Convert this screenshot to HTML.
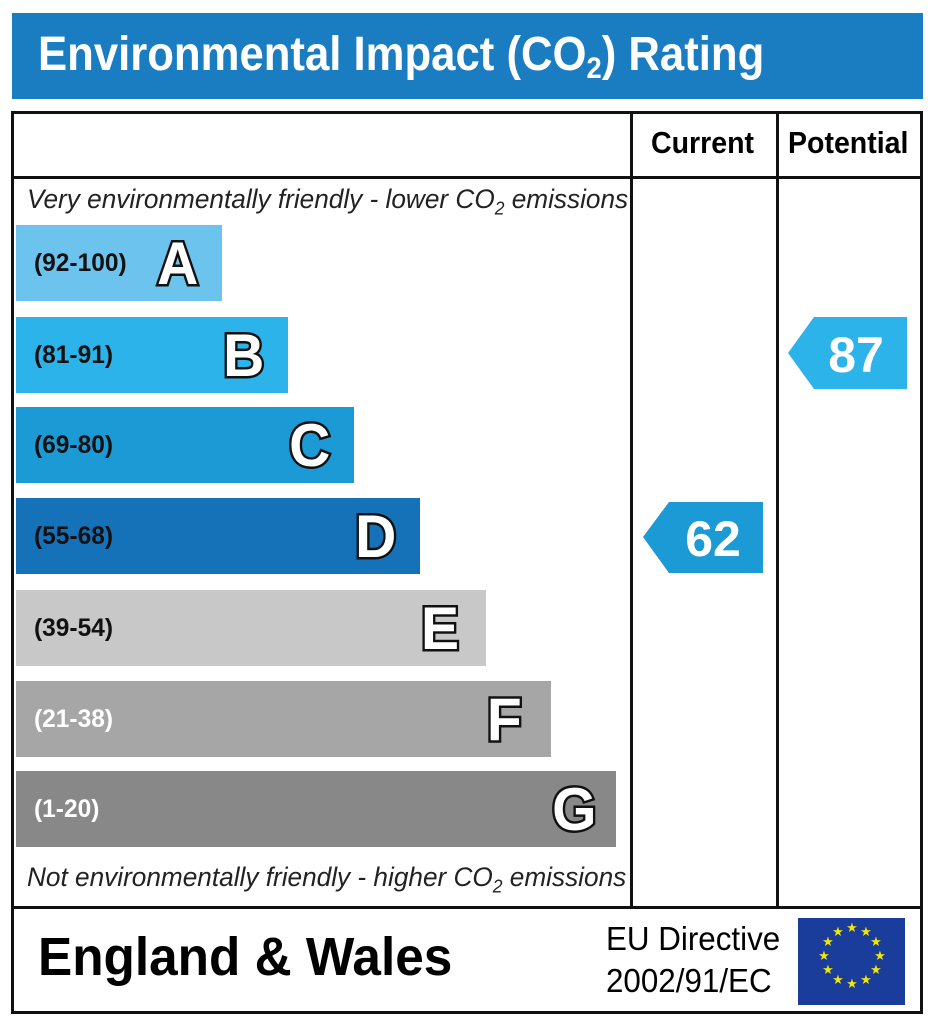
<!DOCTYPE html>
<html><head><style>
body{margin:0;width:933px;height:1024px;background:#fff;position:relative;overflow:hidden;font-family:"Liberation Sans",Arial,sans-serif}
.a{position:absolute}
.title{left:12px;top:13px;width:911px;height:86px;background:#1a7cc1}
.title span{position:absolute;left:26px;top:14px;color:#fff;font-weight:bold;font-size:48px;transform:scaleX(.91);transform-origin:left;white-space:nowrap}
.ln{position:absolute;background:#111}
.bar{position:absolute;left:16px;height:76px}
.rng{position:absolute;left:18px;top:24px;font-weight:bold;font-size:25px;transform:scaleX(.98);transform-origin:left;white-space:nowrap}
.let{position:absolute;top:4px;font-weight:bold;font-size:60px;color:#fff;-webkit-text-stroke:5px #111;paint-order:stroke fill;transform:scaleX(.95)}
.it{position:absolute;font-style:italic;font-size:27px;color:#222;transform:scaleX(.97);transform-origin:left;white-space:nowrap}
.hd{position:absolute;top:125px;font-weight:bold;font-size:31px;transform:scaleX(.92);transform-origin:left;white-space:nowrap}
</style></head><body>
<div class="a title"><span>Environmental Impact (CO<sub style="font-size:30px;vertical-align:-8px">2</sub>) Rating</span></div>
<div class="ln" style="left:12px;top:111px;width:911px;height:3px"></div>
<div class="ln" style="left:12px;top:1011px;width:911px;height:3px"></div>
<div class="ln" style="left:11px;top:111px;width:3px;height:903px"></div>
<div class="ln" style="left:920px;top:111px;width:3px;height:903px"></div>
<div class="ln" style="left:12px;top:176px;width:911px;height:3px"></div>
<div class="ln" style="left:12px;top:906px;width:911px;height:3px"></div>
<div class="ln" style="left:630px;top:111px;width:3px;height:797px"></div>
<div class="ln" style="left:776px;top:111px;width:3px;height:797px"></div>
<div class="hd" style="left:651px">Current</div>
<div class="hd" style="left:788px">Potential</div>
<div class="it" style="left:27px;top:184px">Very environmentally friendly - lower CO<sub style="font-size:18px">2</sub> emissions</div>
<div class="it" style="left:27px;top:862px">Not environmentally friendly - higher CO<sub style="font-size:18px">2</sub> emissions</div>

<div class="bar" style="top:225px;width:206px;background:#6cc4ee"><span class="rng" style="color:#111">(92-100)</span><span class="let" style="left:140px">A</span></div>
<div class="bar" style="top:317px;width:272px;background:#2bb3ea"><span class="rng" style="color:#111">(81-91)</span><span class="let" style="left:206px">B</span></div>
<div class="bar" style="top:407px;width:338px;background:#1b9ad6"><span class="rng" style="color:#111">(69-80)</span><span class="let" style="left:272px">C</span></div>
<div class="bar" style="top:498px;width:404px;background:#1571b8"><span class="rng" style="color:#111">(55-68)</span><span class="let" style="left:338px">D</span></div>
<div class="bar" style="top:590px;width:470px;background:#c8c8c8"><span class="rng" style="color:#111">(39-54)</span><span class="let" style="left:404px">E</span></div>
<div class="bar" style="top:681px;width:535px;background:#a6a6a6"><span class="rng" style="color:#fff">(21-38)</span><span class="let" style="left:470px">F</span></div>
<div class="bar" style="top:771px;width:600px;background:#888"><span class="rng" style="color:#fff">(1-20)</span><span class="let" style="left:535px">G</span></div>

<svg class="a" style="left:643px;top:502px" width="120" height="71"><polygon points="0,35 26,0 120,0 120,71 26,71" fill="#1b9ad6"/><text x="70" y="54" font-family="Liberation Sans" font-weight="bold" font-size="50" fill="#fff" text-anchor="middle">62</text></svg>
<svg class="a" style="left:788px;top:317px" width="119" height="72"><polygon points="0,36 26,0 119,0 119,72 26,72" fill="#2bb3ea"/><text x="68" y="55" font-family="Liberation Sans" font-weight="bold" font-size="50" fill="#fff" text-anchor="middle">87</text></svg>

<div class="a" style="left:38px;top:926px;font-weight:bold;font-size:54px;transform:scaleX(.95);transform-origin:left;white-space:nowrap">England &amp; Wales</div>
<div class="a" style="left:606px;top:918px;font-size:33px;line-height:42px;transform:scaleX(.95);transform-origin:left;white-space:nowrap">EU Directive<br>2002/91/EC</div>
<svg class="a" style="left:798px;top:918px" width="107" height="87"><rect width="107" height="87" fill="#1a3c9a"/>
<g fill="#f5e600" font-size="13" text-anchor="middle" font-family="DejaVu Sans">
<text x="54" y="14">★</text><text x="68" y="18">★</text><text x="78" y="28">★</text><text x="82" y="42">★</text><text x="78" y="56">★</text><text x="68" y="66">★</text><text x="54" y="70">★</text><text x="40" y="66">★</text><text x="30" y="56">★</text><text x="26" y="42">★</text><text x="30" y="28">★</text><text x="40" y="18">★</text>
</g></svg>
</body></html>
